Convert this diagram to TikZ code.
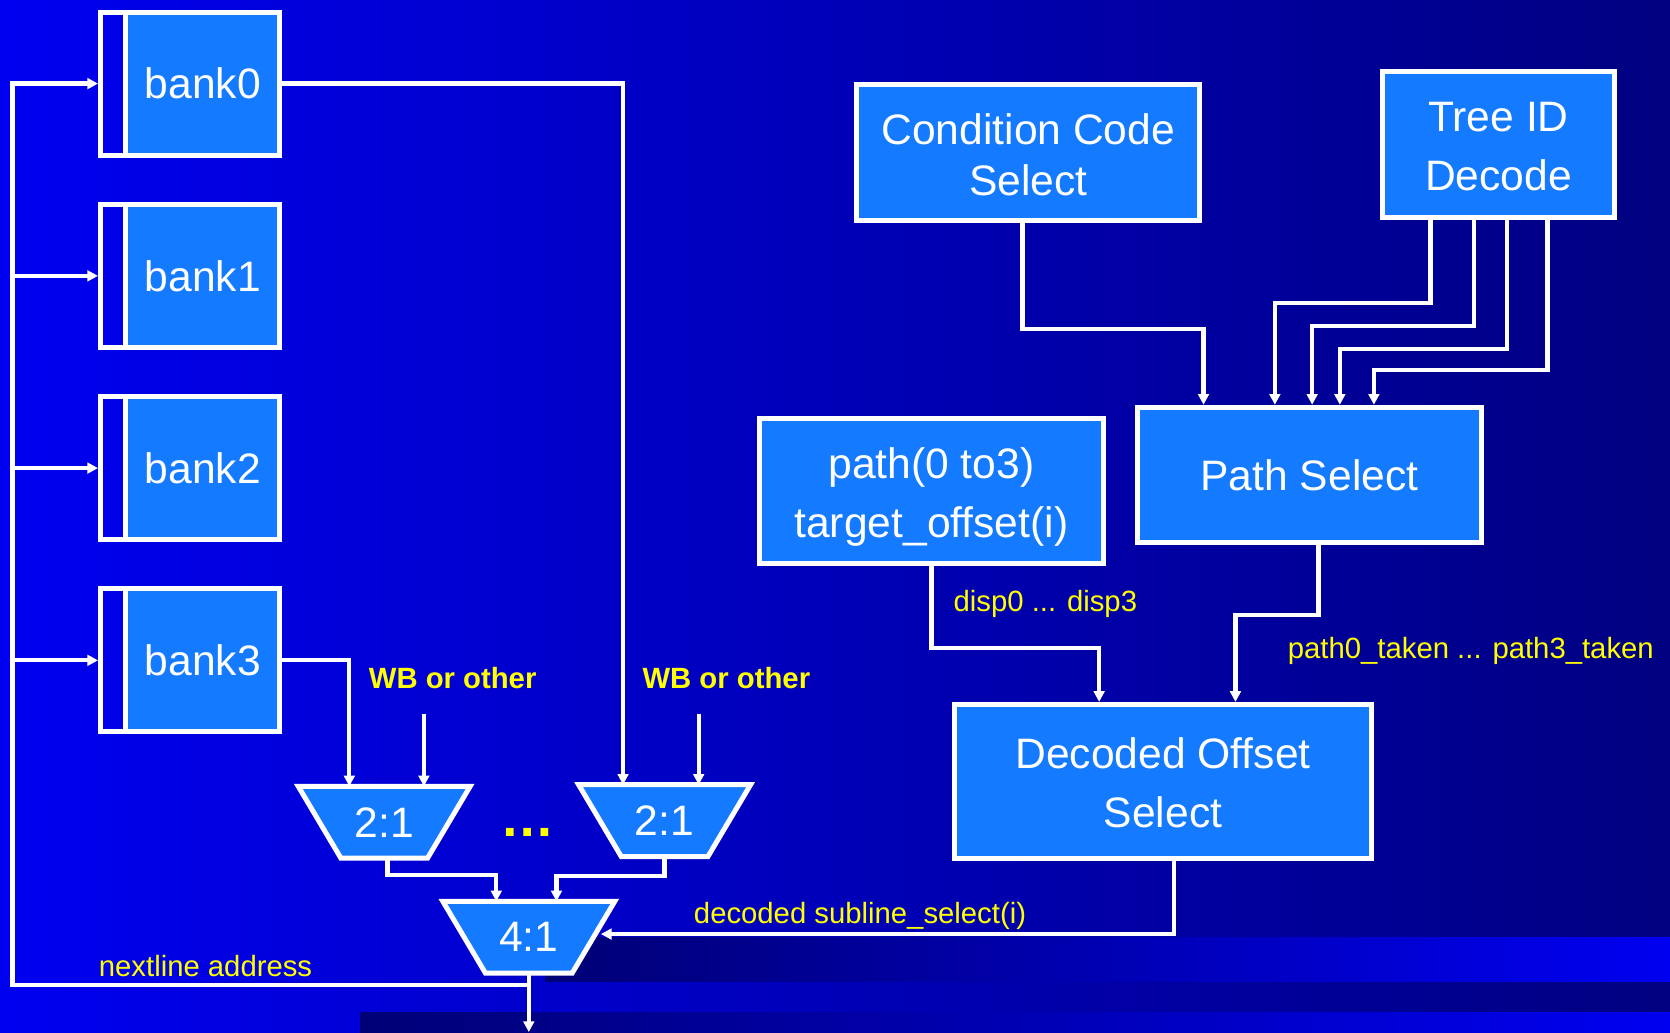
\documentclass[tikz,border=0pt]{standalone}
\usepackage{fontspec}
\setmainfont{Liberation Sans}
\usetikzlibrary{arrows.meta,calc}
\pgfdeclarelayer{bg}
\pgfsetlayers{bg,main}
\definecolor{bgbright}{RGB}{0,0,240}
\definecolor{bgdark}{RGB}{0,0,128}
\definecolor{banddark}{RGB}{0,0,118}
\definecolor{boxblue}{RGB}{20,122,255}
\definecolor{lbl}{RGB}{255,255,0}
\begin{document}
\begin{tikzpicture}[x=1pt,y=-1pt,
  blk/.style={draw=white, line width=4.7pt, fill=boxblue, inner sep=0pt, align=center, text=white, font=\fontsize{40}{56}\selectfont},
  strip/.style={draw=white, line width=4.7pt, inner sep=0pt},
  muxn/.style={inner sep=0pt, minimum width=161pt, minimum height=67pt, text=white, font=\fontsize{40}{48}\selectfont},
  muxs/.style={draw=white, line width=4.7pt, fill=boxblue, line join=miter},
  wire/.style={draw=white, line width=4pt},
  arr/.style={wire, -{Triangle[width=10pt,length=10pt]}},
  lab/.style={text=lbl, inner sep=0pt, anchor=base, font=\fontsize{27.5}{33}\selectfont},
  blab/.style={text=lbl, inner sep=0pt, anchor=base, font=\bfseries\fontsize{27.5}{33}\selectfont},
]
\useasboundingbox (0,0) rectangle (1568,969);
\begin{pgfonlayer}{bg}
  \shade[left color=bgbright, right color=bgdark] (0,0) rectangle (1568,969);
  \shade[left color=banddark, right color=bgbright] (512,880) rectangle (1568,922);
  \shade[left color=banddark, right color=bgbright] (338,951) rectangle (1568,969);
\end{pgfonlayer}

% banks
\foreach \i/\y in {0/78.5, 1/259, 2/439.5, 3/620} {
  \node[blk, minimum width=144.6pt, minimum height=134.2pt] (bank\i) at (190.3,\y) {bank\i};
  \node[strip, minimum width=23.6pt, minimum height=134.2pt] (lft\i) at (106.2,\y) {};
}

% right boxes
\node[blk, minimum width=322.3pt, minimum height=127.3pt] (ccs) at (965.5,143) {\rule{0pt}{33pt}Condition Code\\[-8pt]Select};
\node[blk, minimum width=217.3pt, minimum height=137.3pt] (tid) at (1407,136) {\rule{0pt}{31pt}Tree ID\\Decode};
\node[blk, minimum width=322.3pt, minimum height=127.3pt] (ps) at (1229.5,446) {Path Select};
\node[blk, minimum width=322.3pt, minimum height=135.3pt] (pth) at (874.5,461) {\rule{0pt}{40pt}path(0 to3)\\target\_offset(i)};
\node[blk, minimum width=391.3pt, minimum height=144.3pt] (dos) at (1092,733.5) {\rule{0pt}{32pt}Decoded Offset\\Select};

% muxes
\node[muxn] (mux1) at (360.75,772) {2:1};
\node[muxn] (mux2) at (624,770.5) {2:1};
\node[muxn] (mux4) at (496.5,880) {4:1};
\begin{pgfonlayer}{bg}
  \foreach \m in {mux1,mux2,mux4} {
    \draw[muxs] (\m.north west) -- (\m.north east) -- ([xshift=-40pt]\m.south east) -- ([xshift=40pt]\m.south west) -- cycle;
  }
\end{pgfonlayer}

% coordinates
\coordinate (bus) at (11.7,76);
\coordinate (tee) at (496.5,925);
\coordinate (outc) at (496.5,969);
\coordinate (wb1) at (398,670);
\coordinate (wb2) at (656,670);

% left side wiring
\draw[wire] (tee) -| (bus);
\foreach \i in {0,...,3} { \draw[arr] (lft\i.west -| bus) -- (lft\i.west); }
\draw[arr] (bank0.east) -| ([xshift=-39pt]mux2.north);
\draw[arr] (bank3.east) -| ([xshift=-32.75pt]mux1.north);
\draw[arr] (wb1) -- (wb1 |- mux1.north);
\draw[arr] (wb2) -- (wb2 |- mux2.north);
\draw[arr] ([xshift=3pt]mux1.south) -- ++(0,16) -| ([xshift=-30.5pt]mux4.north);
\draw[arr] (mux2.south) -- ++(0,18) -| ([xshift=26pt]mux4.north);
\draw[arr] (mux4.south) -- (outc);

% right side wiring
\draw[arr] ([xshift=-5.5pt]ccs.south) -- ++(0,100) -| ([xshift=-99.5pt]ps.north);
\draw[arr] ([xshift=-64pt]tid.south) -- ++(0,77.35) -| ([xshift=-32.5pt]ps.north);
\draw[arr] ([xshift=-23pt]tid.south) -- ++(0,99.35) -| ([xshift=2.5pt]ps.north);
\draw[arr] ([xshift=8pt]tid.south) -- ++(0,120.35) -| ([xshift=28.5pt]ps.north);
\draw[arr] ([xshift=46pt]tid.south) -- ++(0,140.35) -| ([xshift=60.5pt]ps.north);
\draw[arr] (pth.south) -- ++(0,77.35) -| ([xshift=-60pt]dos.north);
\draw[arr] ([xshift=8.5pt]ps.south) -- ++(0,65.35) -| ([xshift=68pt]dos.north);
\draw[arr] ([xshift=10pt]dos.south) |- ([shift={(-13pt,3pt)}]mux4.east);

% labels
\node[blab] (wbl1) at (425,646) {WB or other};
\node[blab] (wbl2) at (682,646) {WB or other};
\node[lab] (nla) at (193,917) {nextline address};
\node[lab] (dss) at (807.5,867.5) {decoded subline\_select(i)};
\node[lab] (dsp) at (981.5,574.5) {disp0 ... disp3};
\node[lab] (ptk) at (1381,618) {path0\_taken ... path3\_taken};
\node[text=lbl, inner sep=0pt, font=\bfseries\fontsize{51}{51}\selectfont] (dots) at (495,782) {…};
\end{tikzpicture}
\end{document}
